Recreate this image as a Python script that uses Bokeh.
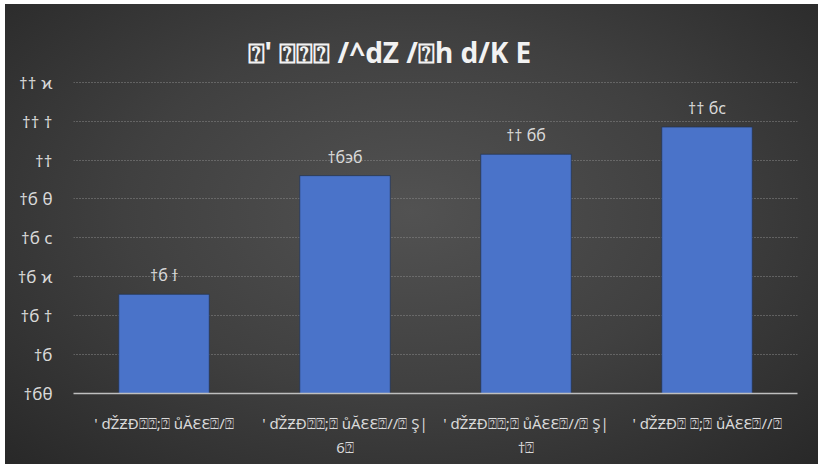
from bokeh.plotting import figure
from bokeh.models import Range1d, FixedTicker, Title, ColumnDataSource
from bokeh.core.properties import value
from bokeh.embed import file_html
from bokeh.resources import INLINE

# ---- data ----
categories = [
    "' ďŽƵĐ⍰⍰;⍰ ůĂƐƐ⍰/⍰",
    "' ďŽƵĐ⍰⍰;⍰ ůĂƐƐ⍰//⍰ Ş|\n6⍰",
    "' ďŽƵĐ⍰⍰;⍰ ůĂƐƐ⍰//⍰ Ş|\n†⍰",
    "' ďŽƵĐ⍰ ⍰;⍰ ůĂƐƐ⍰//⍰",
]
values = [1.031, 1.092, 1.103, 1.117]
value_labels = ["†б ϯ", "†б϶б", "†† бб", "†† бc"]
tick_values = [0.98, 1.00, 1.02, 1.04, 1.06, 1.08, 1.10, 1.12, 1.14]
tick_labels = ["†бθ", "†б", "†б †", "†б ϰ", "†б c", "†б θ", "††", "†† †", "†† ϰ"]
title_text = "⍰' ⍰⍰⍰ /^dZ /⍰h d/K E"

FONT = "Noto Sans"

p = figure(
    x_range=categories,
    y_range=Range1d(tick_values[0], tick_values[-1] + 0.0004),
    frame_width=724, frame_height=312,
    min_border_left=68, min_border_right=21, min_border_top=77, min_border_bottom=71,
    output_backend="svg", toolbar_location=None,
)
p.styles = {
    "margin-left": "5px",
    "margin-top": "4px",
    "background": "radial-gradient(ellipse at 50% 45%, #525252 0%, #404040 50%, #282828 100%)",
}
p.background_fill_alpha = 0
p.border_fill_alpha = 0
p.outline_line_color = None

p.title = Title(text=title_text, align="left", offset=174, standoff=21,
                text_font=FONT, text_font_size="28px", text_font_style="bold",
                text_color="#f2f2f2")

src = ColumnDataSource(dict(x=categories, top=values, lab=value_labels))
p.vbar(x="x", top="top", bottom=tick_values[0], width=0.5, source=src,
       fill_color="#4a73c9", line_color="#22324f", line_width=1, line_alpha=0.7)
p.text(x="x", y="top", text="lab", source=src, y_offset=-8,
       text_align="center", text_baseline="bottom",
       text_font=value(FONT), text_font_size="16px", text_color="#d9d9d9")

# axes
p.yaxis.ticker = FixedTicker(ticks=tick_values)
p.yaxis.major_label_overrides = {t: l for t, l in zip(tick_values, tick_labels)}
p.yaxis.axis_line_color = None
p.yaxis.major_tick_line_color = None
p.yaxis.minor_tick_line_color = None
p.yaxis.major_label_standoff = 15
p.yaxis.major_label_text_font = FONT
p.yaxis.major_label_text_font_size = "17px"
p.yaxis.major_label_text_color = "#d9d9d9"

p.xaxis.axis_line_color = "#bfbfbf"
p.xaxis.axis_line_width = 1.5
p.xaxis.major_tick_line_color = None
p.xaxis.minor_tick_line_color = None
p.xaxis.major_label_standoff = 13
p.xaxis.major_label_text_font = FONT
p.xaxis.major_label_text_font_size = "15px"
p.xaxis.major_label_text_color = "#d9d9d9"

p.xgrid.grid_line_color = None
p.ygrid.grid_line_color = "#8a8a8a"
p.ygrid.grid_line_dash = "1 2"
p.ygrid.grid_line_width = 1

open("out.html", "w").write(file_html(p, INLINE))
